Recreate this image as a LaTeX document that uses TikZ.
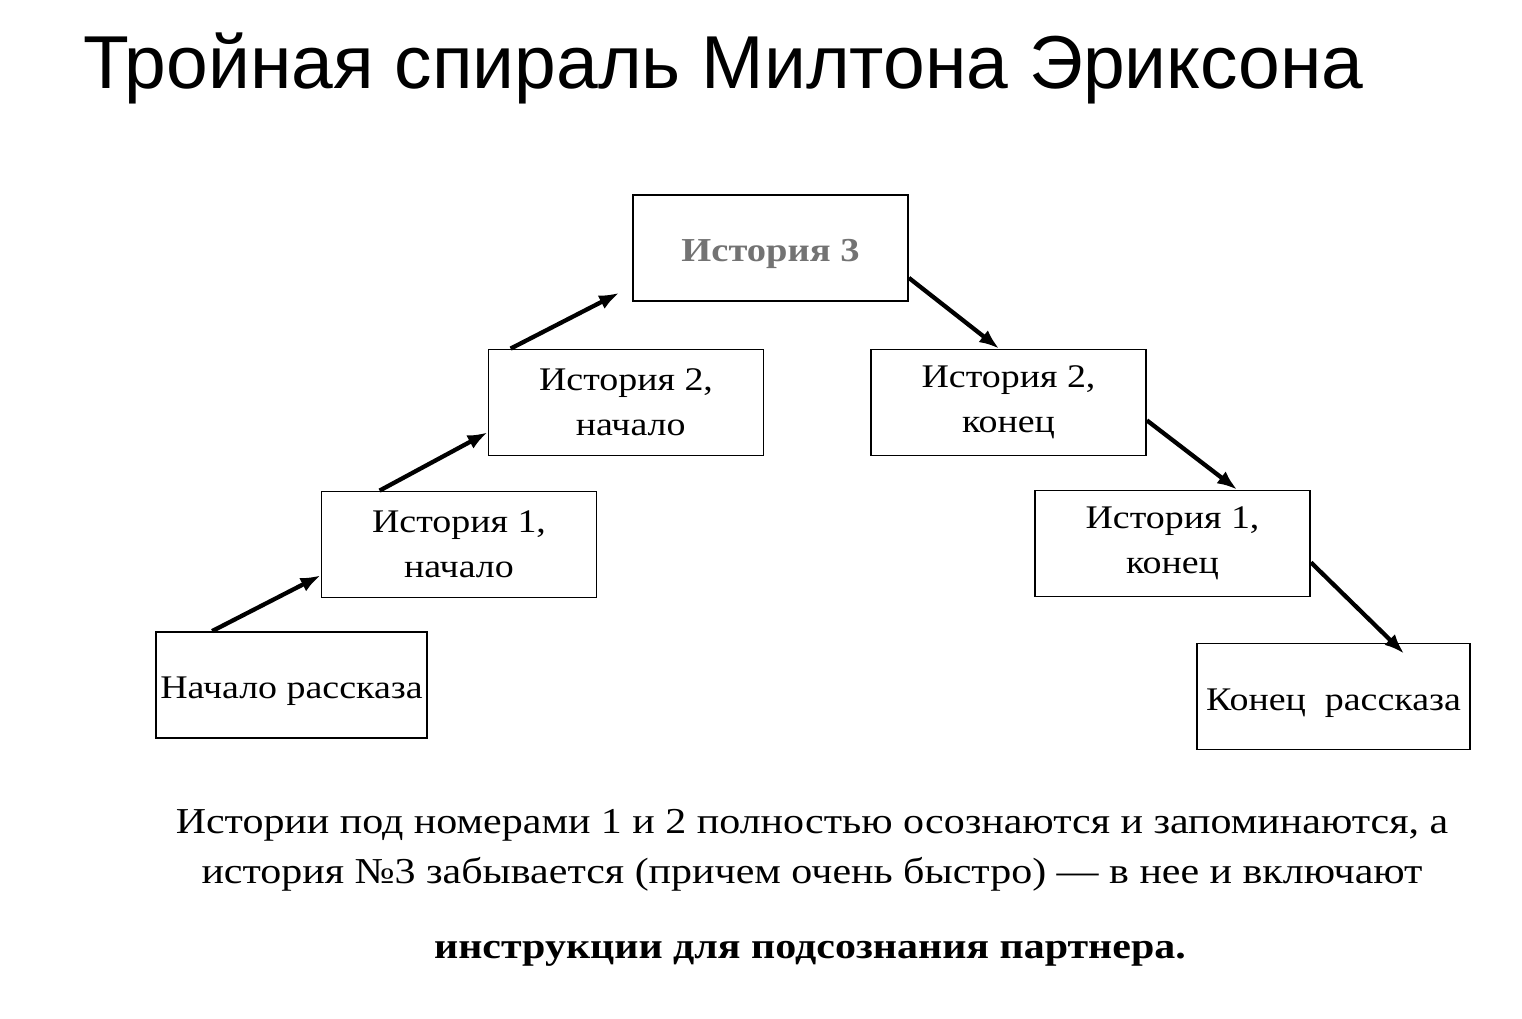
\documentclass[tikz,border=0pt]{standalone}
\usepackage{fontspec}
\setmainfont{Liberation Serif}[FakeStretch=1.15]
\newfontfamily\titlefont{Liberation Sans}
\usepackage{tikz}
\usetikzlibrary{arrows.meta}

\tikzset{
  box/.style={draw, line width=1.8pt, minimum width=275pt, minimum height=106pt,
    inner sep=0pt, align=center, font=\fontsize{33}{45}\selectfont},
  onebox/.style={box, text height=34pt},
  arr/.style={line width=4.3pt, -{Latex[length=20pt,width=15pt]}}
}

\begin{document}
\begin{tikzpicture}[x=1pt,y=-1pt]
           \useasboundingbox (0,0) rectangle (1522,1018);

           % Overskrift
           \node[anchor=base west, inner sep=0pt, font=\titlefont\fontsize{75}{80}\selectfont] (title) at (83,88) {Тройная спираль Милтона Эриксона};

           % Boksene
           \node[onebox, text=black!55, font=\bfseries\fontsize{33.5}{45}\selectfont] (s3) at (770.5,248) {История 3};
           \node[box] (s2b) at (626,402.5) {История 2,\\ \ начало};
           \node[box] (s2e) at (1008.5,402.5) {История 2,\\конец};
           \node[box] (s1b) at (459,544.5) {История 1,\\начало};
           \node[box] (s1e) at (1172.5,543.5) {История 1,\\конец};
           \node[onebox, minimum width=271pt] (start) at (291.5,685) {Начало рассказа};
           \node[onebox, minimum width=273pt] (finish) at (1333.5,696.5) {Конец\ \ рассказа};

           % Pilene opp
           \draw[arr] ([xshift=57pt]start.north west) -- ([yshift=23pt]s1b.south west);
           \draw[arr] ([xshift=59pt]s1b.north west) -- ([yshift=24pt]s2b.south west);
           \draw[arr] ([xshift=23pt]s2b.north west) -- ([xshift=-13pt,yshift=9pt]s3.south west);

           % Pilene ned
           \draw[arr] ([yshift=24pt]s3.south east) -- ([xshift=129pt]s2e.north west);
           \draw[arr] ([yshift=36pt]s2e.south east) -- ([xshift=203pt]s1e.north west);
           \draw[arr] ([yshift=35pt]s1e.south east) -- ([xshift=208pt,yshift=-11pt]finish.north west);

           % Teksten nederst
           \node[anchor=base, inner sep=0pt, font=\fontsize{36.5}{50}\selectfont] (note1) at (812,833) {Истории под номерами 1 и 2 полностью осознаются и запоминаются, а};
           \node[anchor=base, inner sep=0pt, font=\fontsize{36.5}{50}\selectfont] (note2) at (812,883) {история №3 забывается (причем очень быстро) — в нее и включают};
           \node[anchor=base, inner sep=0pt, font=\bfseries\fontsize{36.5}{50}\selectfont] (notebold) at (810,958) {инструкции для подсознания партнера.};
         \end{tikzpicture}
\end{document}
